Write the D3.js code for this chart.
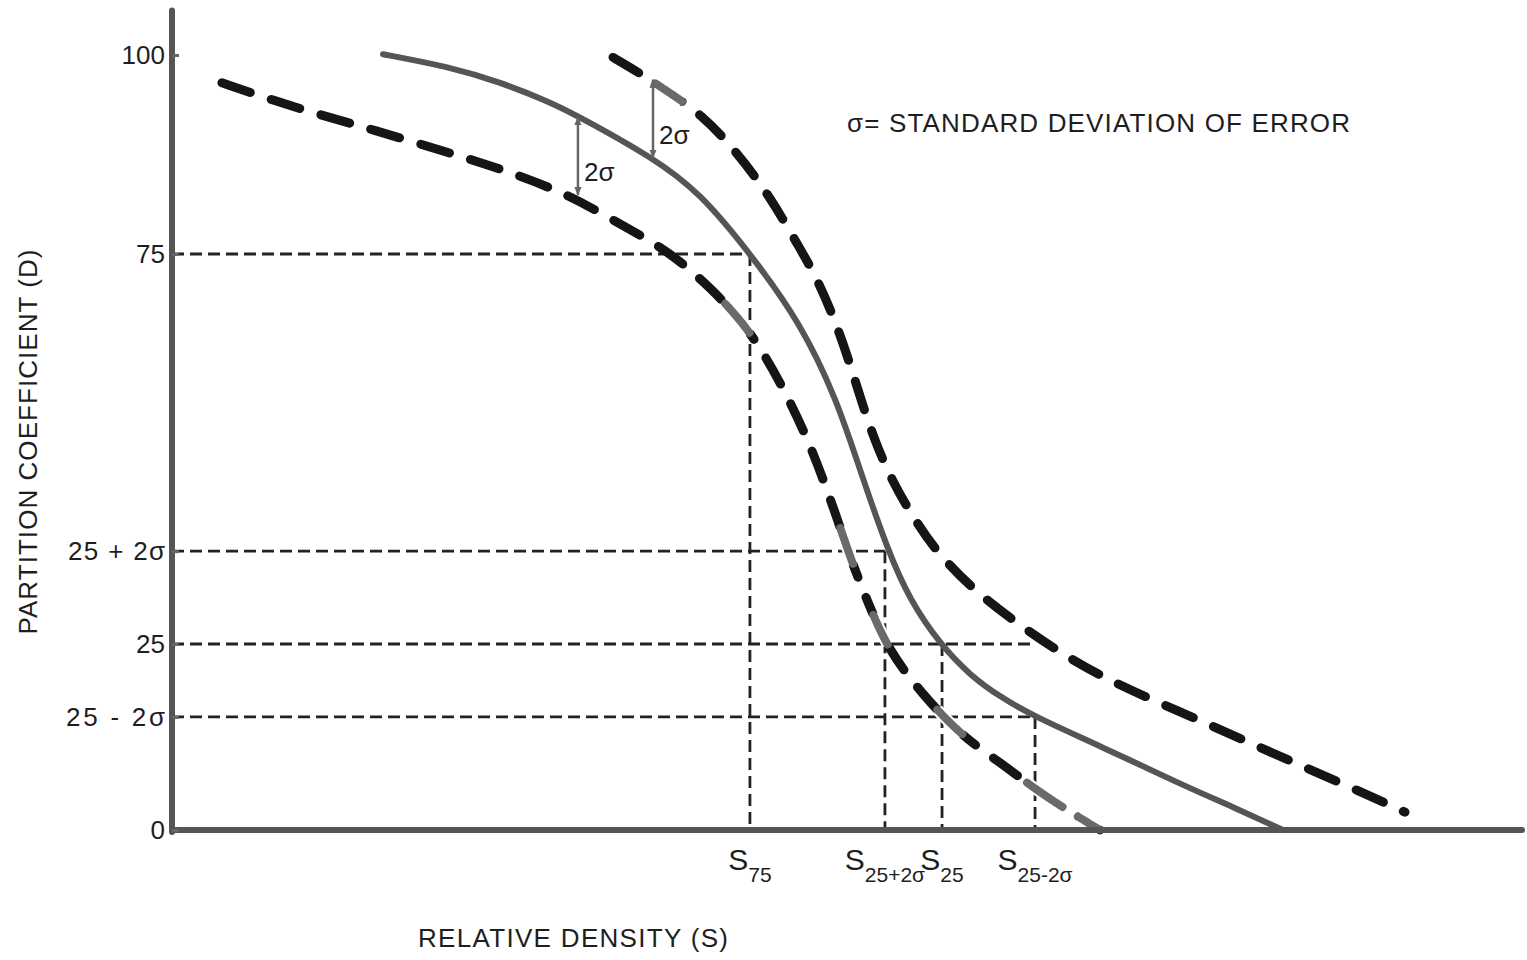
<!DOCTYPE html>
<html><head><meta charset="utf-8">
<script src="https://cdn.jsdelivr.net/npm/d3@7"></script>
<style>
body{margin:0;background:#fff}
svg{display:block}
text{font-family:"Liberation Sans",Arial,sans-serif;fill:#1e1e1e}
</style>
</head><body>
<svg id="c" width="1527" height="960"></svg>
<script>
// ---------------- data ----------------
// relative density S (arbitrary units 0..100) and partition coefficient D (0..100)
const solidS = [15.63, 20.59, 24.30, 28.00, 30.22, 35.63, 39.11, 42.81, 46.52, 49.26, 50.96, 53.04, 54.67, 56.89, 59.11, 61.33, 63.93, 68.74, 74.89, 78.59, 82.30];
const solidD = [100.1, 98.5, 96.6, 94.1, 92.2, 87.1, 82.7, 75.1, 66.3, 56.3, 47.3, 36.9, 30.6, 25.0, 20.8, 17.9, 15.2, 11.3, 6.0, 3.1, 0];

const upperS = [32.67, 34.67, 36.74, 39.26, 41.85, 44.30, 46.37, 47.85, 49.48, 50.74, 51.93, 53.41, 55.04, 56.67, 59.63, 63.04, 66.67, 70.44, 75.19, 79.85, 84.07, 88.22, 91.33];
const upperD = [99.7, 97.7, 95.4, 92.5, 87.8, 82.2, 76.1, 71.7, 64.9, 58.0, 51.5, 45.6, 40.9, 36.7, 31.5, 27.1, 22.8, 19.2, 15.5, 11.7, 8.3, 5.0, 2.4];

const lowerS = [3.70, 7.48, 10.96, 14.89, 20.59, 25.04, 29.48, 33.33, 36.67, 39.85, 42.81, 45.26, 47.41, 49.11, 50.44, 51.56, 53.04, 55.63, 58.59, 61.33, 63.56, 66.0, 68.74];
const lowerD = [96.5, 94.3, 92.5, 90.6, 87.7, 85.3, 82.4, 78.6, 75.5, 70.8, 65.3, 58.0, 50.1, 41.9, 35.1, 30.3, 24.2, 18.1, 12.5, 9.1, 6.0, 3.0, 0];

// grey (redrawn) pieces of the dashed curves, as S-ranges
const upperGrey = [[35.78, 37.85]];
const lowerGrey = [[40.96, 42.81], [49.48, 50.44], [51.93, 53.04], [56.67, 58.59], [63.33, 66.0], [67.04, 68.74]];

// y tick values and labels
const yTickVals = [0, 15.2, 25, 36.9, 75, 100];
const yTickLabels = ["0", "25 - 2σ", "25", "25 + 2σ", "75", "100"];

// reading lines: S position, D level, subscript label
const readS = [42.81, 52.81, 57.04, 63.93];
const readD = [75, 36.9, 25, 15.2];
const readSub = ["75", "25+2σ", "25", "25-2σ"];
// horizontal reading lines extend to these S values
const hLineD = [75, 36.9, 25, 15.2];
const hLineEndS = [42.81, 52.81, 63.93, 63.93];

// 2σ arrows
const arrowS = [30.07, 35.63];
const arrowTop = [92.2, 96.9];
const arrowBot = [82.4, 87.1];

const axisMaxS = 100, axisMaxD = 105.6;

// ---------------- drawing ----------------
const svg = d3.select("#c");
const x = d3.scaleLinear().domain([0, 100]).range([172, 1522]);
const y = d3.scaleLinear().domain([0, 25, 75, 100]).range([830, 644, 254, 55]);

const line = d3.line().x(d => x(d[0])).y(d => y(d[1])).curve(d3.curveBasis);
const zip = (a, b) => a.map((v, i) => [v, b[i]]);

// reading lines (thin dashed)
const ref = svg.append("g").attr("stroke", "#222").attr("stroke-width", 2.8)
  .attr("stroke-dasharray", "12,6").attr("fill", "none");
hLineD.forEach((d, i) => {
  ref.append("line").attr("x1", x(0)).attr("x2", x(hLineEndS[i])).attr("y1", y(d)).attr("y2", y(d));
});
readS.forEach((s, i) => {
  ref.append("line").attr("x1", x(s)).attr("x2", x(s)).attr("y1", y(readD[i])).attr("y2", y(0));
});

// solid curve
svg.append("path").attr("d", line(zip(solidS, solidD)))
  .attr("fill", "none").attr("stroke", "#555").attr("stroke-width", 6).attr("stroke-linecap", "round");

// dashed curves
function dashed(S, D) {
  return svg.append("path").attr("d", line(zip(S, D)))
    .attr("fill", "none").attr("stroke", "#151515").attr("stroke-width", 9)
    .attr("stroke-linecap", "round").attr("stroke-dasharray", "30,22");
}
const up = dashed(upperS, upperD);
const lo = dashed(lowerS, lowerD);

function greyPieces(pathSel, ranges) {
  const node = pathSel.node();
  const L = node.getTotalLength();
  ranges.forEach(r => {
    const x0 = x(r[0]), x1 = x(r[1]);
    const pts = [];
    for (let l = 0; l <= L; l += 1) {
      const p = node.getPointAtLength(l);
      if (p.x >= x0 && p.x <= x1) pts.push([p.x, p.y]);
    }
    svg.append("path").attr("d", d3.line()(pts)).attr("fill", "none")
      .attr("stroke", "#fff").attr("stroke-width", 12).attr("stroke-linecap", "butt");
    svg.append("path").attr("d", d3.line()(pts)).attr("fill", "none")
      .attr("stroke", "#6a6a6a").attr("stroke-width", 8).attr("stroke-linecap", "round");
  });
}
greyPieces(up, upperGrey);
greyPieces(lo, lowerGrey);

// arrows
const defs = svg.append("defs");
defs.append("marker").attr("id", "ah").attr("viewBox", "0 0 10 10").attr("refX", 9).attr("refY", 5)
  .attr("markerWidth", 9).attr("markerHeight", 9).attr("markerUnits", "userSpaceOnUse")
  .attr("orient", "auto-start-reverse")
  .append("path").attr("d", "M0,1 L10,5 L0,9 z").attr("fill", "#666");
arrowS.forEach((s, i) => {
  svg.append("line").attr("x1", x(s)).attr("x2", x(s)).attr("y1", y(arrowBot[i])).attr("y2", y(arrowTop[i]))
    .attr("stroke", "#666").attr("stroke-width", 2.5)
    .attr("marker-start", "url(#ah)").attr("marker-end", "url(#ah)");
  svg.append("text").attr("x", x(s) + 6).attr("y", y(arrowBot[i]) - 14)
    .attr("font-size", 26).text("2σ");
});

// axes lines
svg.append("line").attr("x1", x(0)).attr("x2", x(0)).attr("y1", y(0) + 2).attr("y2", y(axisMaxD))
  .attr("stroke", "#555").attr("stroke-width", 6).attr("stroke-linecap", "round");
svg.append("line").attr("x1", x(0)).attr("x2", x(axisMaxS)).attr("y1", y(0)).attr("y2", y(0))
  .attr("stroke", "#555").attr("stroke-width", 6).attr("stroke-linecap", "round");

// y axis ticks / labels
const yAx = svg.append("g").attr("transform", `translate(${x(0)},0)`)
  .call(d3.axisLeft(y).tickValues(yTickVals).tickFormat((d, i) => yTickLabels[i])
    .tickSizeInner(-7).tickSizeOuter(0).tickPadding(7));
yAx.select(".domain").remove();
yAx.selectAll(".tick line").attr("stroke", "#666").attr("stroke-width", 3);
yAx.selectAll(".tick text").attr("font-size", 26).attr("fill", "#1e1e1e")
  .attr("font-family", "Liberation Sans, Arial, sans-serif")
  .each(function (d, i) {
    const t = yTickLabels[i];
    if (t === "25 + 2σ") d3.select(this).attr("textLength", 97).attr("lengthAdjust", "spacing");
    if (t === "25 - 2σ") d3.select(this).attr("textLength", 99).attr("lengthAdjust", "spacing");
  });

// x labels S_n
readS.forEach((s, i) => {
  const t = svg.append("text").attr("x", x(s)).attr("y", y(0) + 40).attr("text-anchor", "middle");
  t.append("tspan").attr("font-size", 30).text("S");
  t.append("tspan").attr("font-size", 21).attr("dy", 12).text(readSub[i]);
});

// titles
svg.append("text").attr("x", 418).attr("y", 947).attr("font-size", 26)
  .attr("textLength", 310).attr("lengthAdjust", "spacing").text("RELATIVE DENSITY (S)");
svg.append("text").attr("transform", "translate(37,442) rotate(-90)").attr("text-anchor", "middle")
  .attr("font-size", 26).attr("textLength", 385).attr("lengthAdjust", "spacing")
  .text("PARTITION COEFFICIENT (D)");
svg.append("text").attr("x", 847).attr("y", 132).attr("font-size", 26)
  .attr("textLength", 503).attr("lengthAdjust", "spacing")
  .text("σ= STANDARD DEVIATION OF ERROR");
</script>
</body></html>
